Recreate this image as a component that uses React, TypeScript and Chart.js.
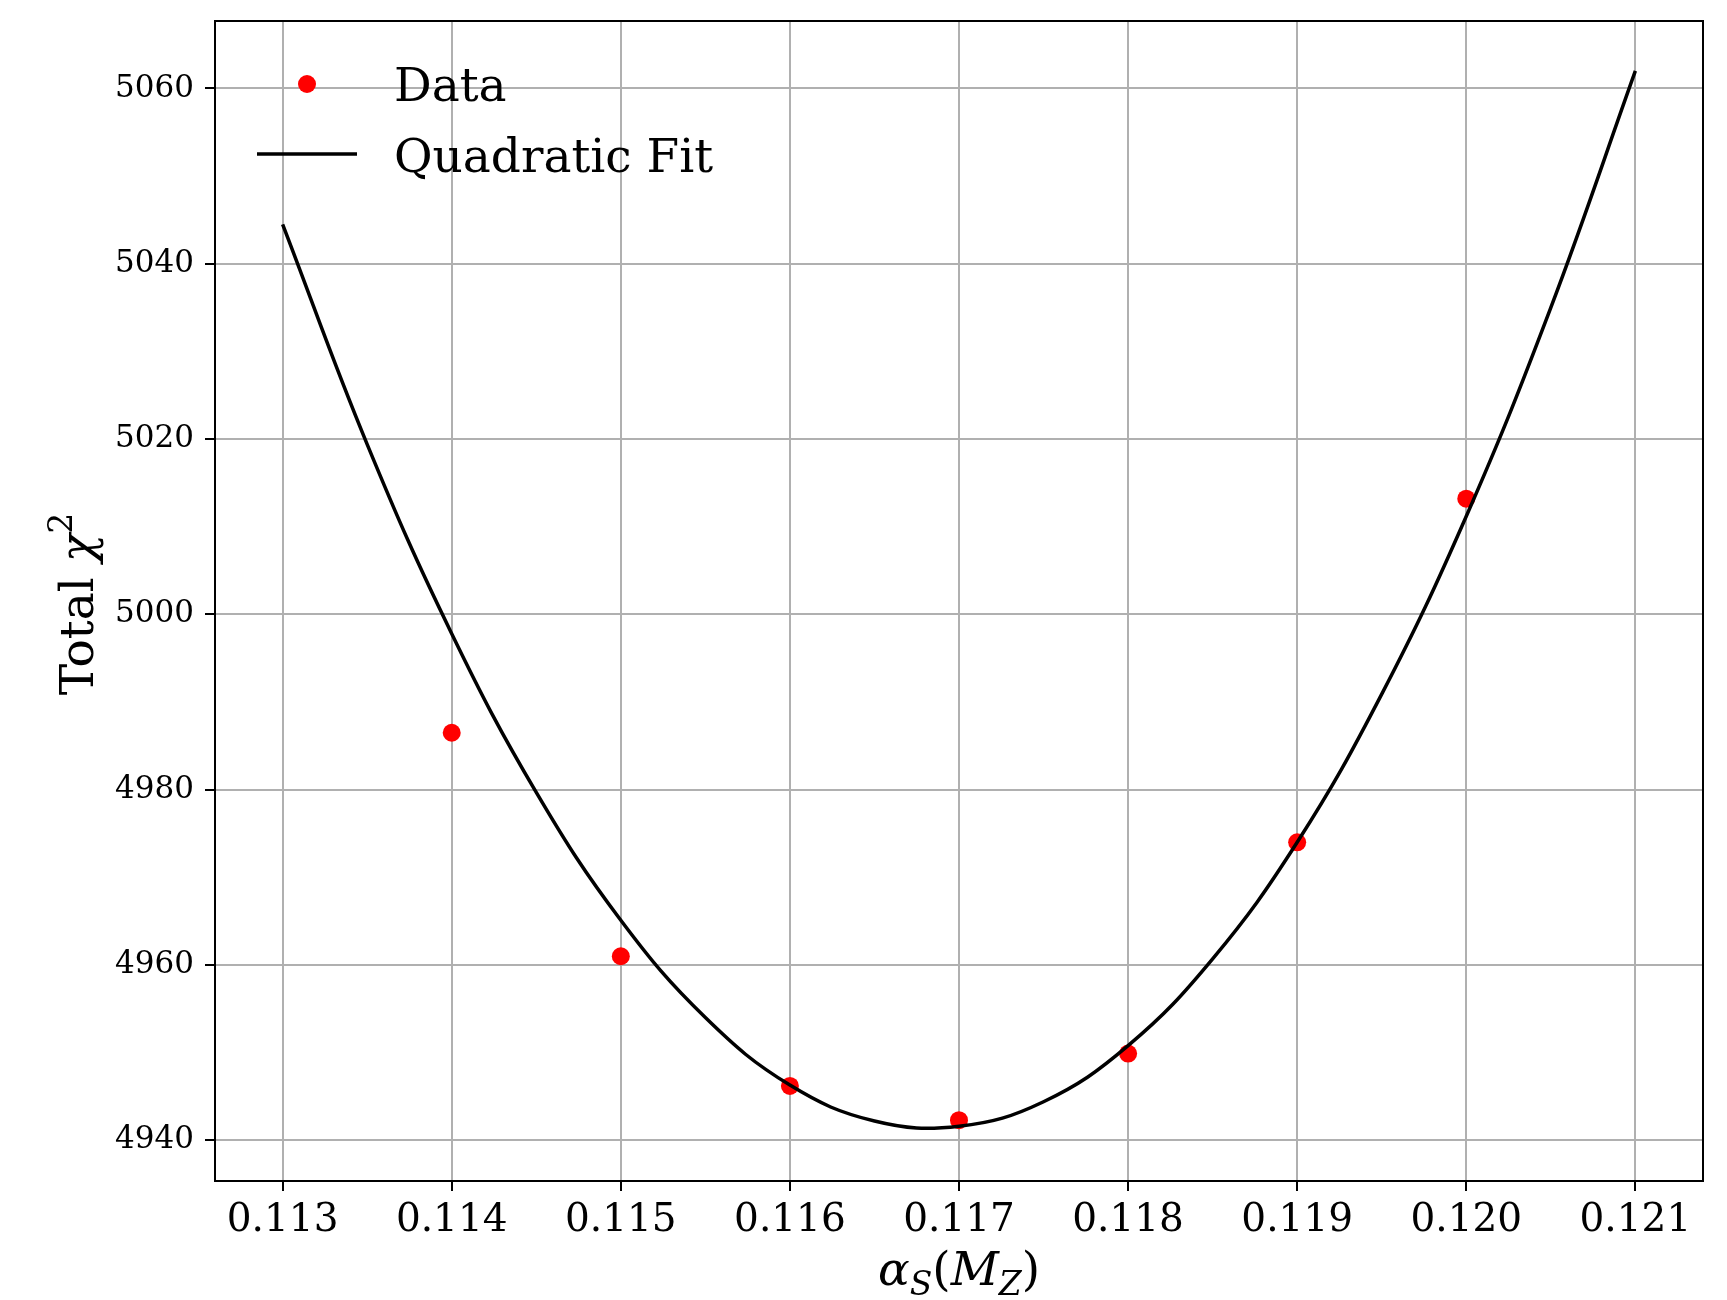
import { useEffect, useRef } from "react";
import { Chart, registerables } from "chart.js";

Chart.register(...registerables);

// Measured total chi-square at each strong coupling value
const alphaValues = [0.114, 0.115, 0.116, 0.117, 0.118, 0.119, 0.12];
const chi2Values = [4986.5, 4961.0, 4946.2, 4942.3, 4949.9, 4974.0, 5013.2];

// Quadratic fit curve, sampled along the alpha range
const fitAlpha = [
  0.113, 0.1135, 0.114, 0.1145, 0.115, 0.1155, 0.116, 0.1165, 0.117,
  0.1175, 0.118, 0.1185, 0.119, 0.1195, 0.12, 0.1205, 0.121,
];
const fitChi2 = [
  5044.5, 5019.4, 4997.8, 4979.7, 4965.1, 4954.0, 4946.3, 4942.2, 4941.6,
  4944.4, 4950.8, 4960.7, 4974.0, 4990.9, 5011.2, 5035.0, 5062.0,
];

const xTicks = [0.113, 0.114, 0.115, 0.116, 0.117, 0.118, 0.119, 0.12, 0.121];
const yTicks = [4940, 4960, 4980, 5000, 5020, 5040, 5060];

const legendLabels = ["Data", "Quadratic Fit"];

const SERIF = "'DejaVu Serif', serif";
const DOT_RED = "#ff0000";
const GRID_GREY = "#b0b0b0";

type Part = { t: string; italic?: boolean; scale?: number; dy?: number };

// Draws a run of text pieces (sub/superscripts) centred on x at baseline y
function drawRich(ctx: CanvasRenderingContext2D, parts: Part[], x: number, y: number, size: number) {
  const fontFor = (p: Part) =>
    `${p.italic ? "italic " : ""}${Math.round(size * (p.scale ?? 1))}px ${SERIF}`;
  let total = 0;
  const widths = parts.map((p) => {
    ctx.font = fontFor(p);
    const w = ctx.measureText(p.t).width;
    total += w;
    return w;
  });
  let cx = x - total / 2;
  ctx.textAlign = "left";
  ctx.textBaseline = "alphabetic";
  parts.forEach((p, i) => {
    ctx.font = fontFor(p);
    ctx.fillText(p.t, cx, y + (p.dy ?? 0) * size);
    cx += widths[i];
  });
}

const decorations = {
  id: "decorations",
  afterDraw(chart: Chart) {
    const { ctx, chartArea } = chart;
    ctx.save();

    // Frame round the plotting area
    ctx.strokeStyle = "#000000";
    ctx.lineWidth = 2;
    ctx.strokeRect(
      chartArea.left,
      chartArea.top,
      chartArea.right - chartArea.left,
      chartArea.bottom - chartArea.top
    );

    ctx.fillStyle = "#000000";
    const midX = (chartArea.left + chartArea.right) / 2;
    const midY = (chartArea.top + chartArea.bottom) / 2;

    // x-axis title: alpha_S(M_Z)
    drawRich(
      ctx,
      [
        { t: "α", italic: true },
        { t: "S", italic: true, scale: 0.7, dy: 0.22 },
        { t: "(" },
        { t: "M", italic: true },
        { t: "Z", italic: true, scale: 0.7, dy: 0.22 },
        { t: ")" },
      ],
      midX,
      1285,
      47
    );

    // y-axis title: Total chi^2
    ctx.save();
    ctx.translate(93, midY + 3);
    ctx.rotate(-Math.PI / 2);
    drawRich(
      ctx,
      [
        { t: "Total " },
        { t: "χ", italic: true },
        { t: "2", scale: 0.7, dy: -0.45 },
      ],
      0,
      0,
      47
    );
    ctx.restore();

    // Legend (no frame), upper left
    const lx = chartArea.left;
    ctx.fillStyle = DOT_RED;
    ctx.beginPath();
    ctx.arc(lx + 92, 84, 9, 0, Math.PI * 2);
    ctx.fill();

    ctx.strokeStyle = "#000000";
    ctx.lineWidth = 3.5;
    ctx.beginPath();
    ctx.moveTo(lx + 42, 154);
    ctx.lineTo(lx + 142, 154);
    ctx.stroke();

    ctx.fillStyle = "#000000";
    ctx.font = `47px ${SERIF}`;
    ctx.textAlign = "left";
    ctx.textBaseline = "alphabetic";
    ctx.fillText(legendLabels[0], lx + 179, 101);
    ctx.fillText(legendLabels[1], lx + 179, 172);

    ctx.restore();
  },
};

export default function App() {
  const canvasRef = useRef<HTMLCanvasElement | null>(null);

  useEffect(() => {
    const canvas = canvasRef.current;
    if (!canvas) return;

    const chart = new Chart(canvas, {
      type: "scatter",
      data: {
        datasets: [
          {
            label: legendLabels[0],
            data: alphaValues.map((x, i) => ({ x, y: chi2Values[i] })),
            backgroundColor: DOT_RED,
            borderWidth: 0,
            pointRadius: 9,
            pointHoverRadius: 9,
            showLine: false,
            order: 2,
          },
          {
            type: "line",
            label: legendLabels[1],
            data: fitAlpha.map((x, i) => ({ x, y: fitChi2[i] })),
            borderColor: "#000000",
            borderWidth: 3.5,
            pointRadius: 0,
            tension: 0.4,
            fill: false,
            order: 1,
          },
        ],
      },
      options: {
        responsive: false,
        devicePixelRatio: 1,
        animation: false,
        events: [],
        layout: { padding: { left: 0, right: 24, top: 21, bottom: 0 } },
        plugins: {
          legend: { display: false },
          tooltip: { enabled: false },
        },
        scales: {
          x: {
            type: "linear",
            position: "bottom",
            min: 0.1126,
            max: 0.1214,
            afterFit(scale: any) {
              scale.height = 119;
              scale.paddingLeft = 0;
              scale.paddingRight = 0;
            },
            afterBuildTicks(scale: any) {
              scale.ticks = xTicks.map((value) => ({ value }));
            },
            ticks: {
              callback: (v: any) => Number(v).toFixed(3),
              font: { family: SERIF, size: 39 },
              color: "#000000",
              padding: 6,
              maxRotation: 0,
              autoSkip: false,
            },
            grid: {
              color: GRID_GREY,
              lineWidth: 2,
              tickColor: "#000000",
              tickLength: 10,
              tickWidth: 2,
            },
            border: { display: false },
          },
          y: {
            type: "linear",
            min: 4935.36,
            max: 5067.7,
            afterFit(scale: any) {
              scale.width = 215;
              scale.paddingTop = 0;
              scale.paddingBottom = 0;
            },
            afterBuildTicks(scale: any) {
              scale.ticks = yTicks.map((value) => ({ value }));
            },
            ticks: {
              callback: (v: any) => String(v),
              font: { family: SERIF, size: 31 },
              color: "#000000",
              padding: 11,
              autoSkip: false,
            },
            grid: {
              color: GRID_GREY,
              lineWidth: 2,
              tickColor: "#000000",
              tickLength: 10,
              tickWidth: 2,
            },
            border: { display: false },
          },
        },
      },
      plugins: [decorations],
    });

    return () => chart.destroy();
  }, []);

  return (
    <div style={{ position: "absolute", left: 0, top: 0, width: 1727, height: 1300, background: "#ffffff" }}>
      <canvas ref={canvasRef} width={1727} height={1300} style={{ display: "block" }} />
    </div>
  );
}
